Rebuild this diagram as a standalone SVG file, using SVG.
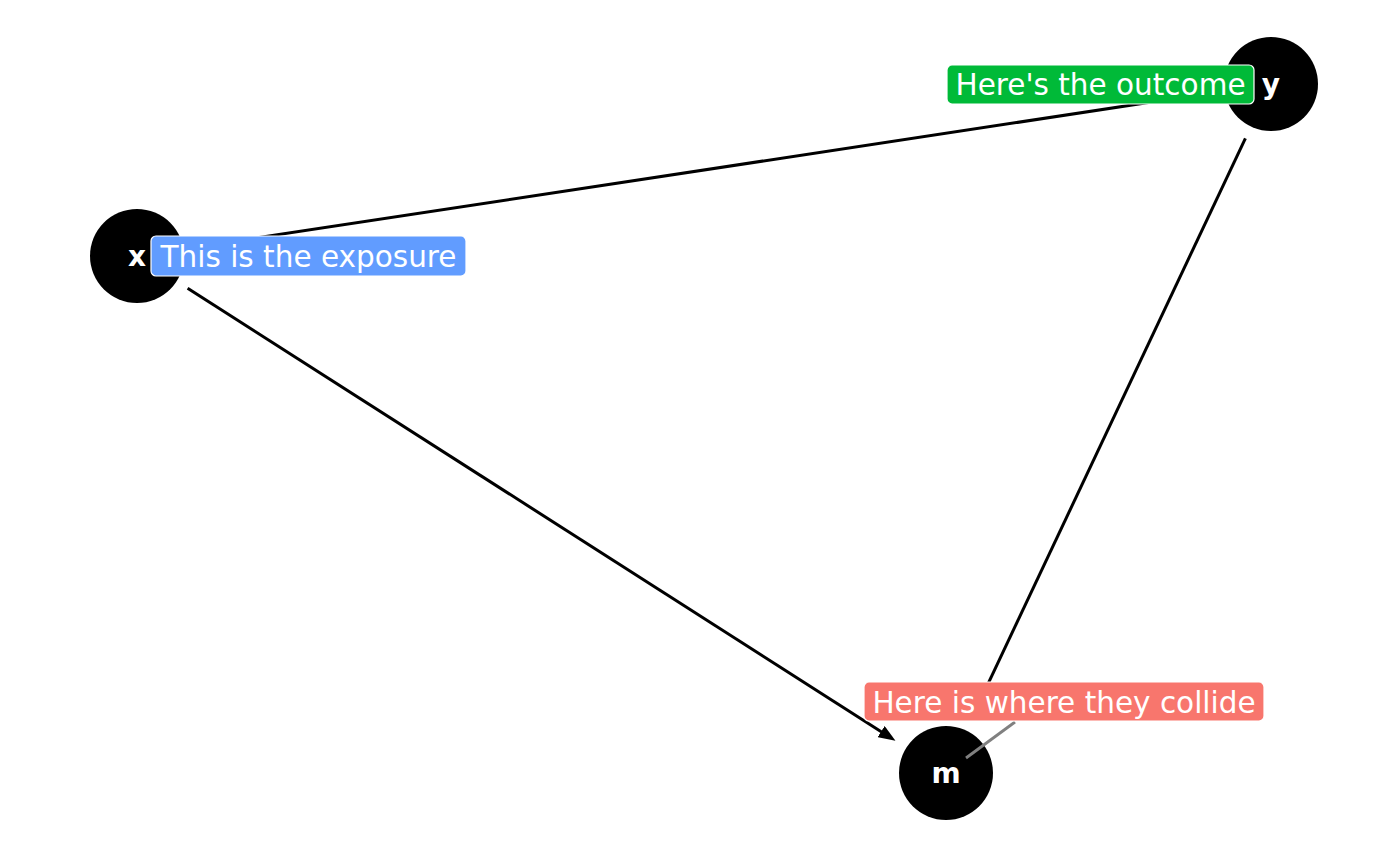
<svg xmlns="http://www.w3.org/2000/svg" width="1400" height="866" viewBox="0 0 1400 866">
<style>
.edge{stroke:#000;stroke-width:3;fill:none}
.node circle{fill:#000}
.node text{fill:#fff;font-family:"DejaVu Sans",sans-serif;font-weight:bold;font-size:28px;text-anchor:middle}
.lbl text{fill:#fff;font-family:"DejaVu Sans",sans-serif;font-size:29.5px;text-anchor:middle}
.lbl rect{stroke:#fff;stroke-width:1.2}
</style>
<defs>
<marker id="arr" viewBox="0 0 17 13" refX="8" refY="6.5" markerWidth="17" markerHeight="13" markerUnits="userSpaceOnUse" orient="auto">
<path d="M0,0 L17,6.5 L0,13 Z" fill="#000"/>
</marker>
</defs>
<rect width="1400" height="866" fill="#fff"/>
<g id="connectors">
<line class="edge" x1="187.6" y1="288.3" x2="887.9" y2="735.9" marker-end="url(#arr)"/>
<line class="edge" x1="196.3" y1="247.0" x2="1202.8" y2="94.3" marker-end="url(#arr)"/>
<line class="edge" x1="1245.4" y1="138.3" x2="975.4" y2="710.6" marker-end="url(#arr)"/>
</g>
<g id="node-x" class="node"><circle cx="137" cy="256" r="47"/><text x="137" y="266">x</text></g>
<g id="node-y" class="node"><circle cx="1271" cy="84" r="47"/><text x="1271" y="94">y</text></g>
<g id="node-m" class="node"><circle cx="946" cy="773" r="47"/><text x="946" y="783">m</text></g>
<g id="label-m" class="lbl">
<line x1="966" y1="758" x2="1015" y2="722" stroke="#808080" stroke-width="2.8"/>
<rect x="864" y="682" width="400" height="39" rx="5" fill="#F8766D" stroke="none"/>
<text x="1064" y="712.5">Here is where they collide</text>
</g>
<g id="label-x" class="lbl">
<rect x="151" y="236" width="315" height="40" rx="5" fill="#619CFF"/>
<text x="308.5" y="266.5">This is the exposure</text>
</g>
<g id="label-y" class="lbl">
<rect x="947" y="65" width="307" height="39" rx="5" fill="#00BA38"/>
<text x="1100.5" y="94.5">Here's the outcome</text>
</g>
</svg>
